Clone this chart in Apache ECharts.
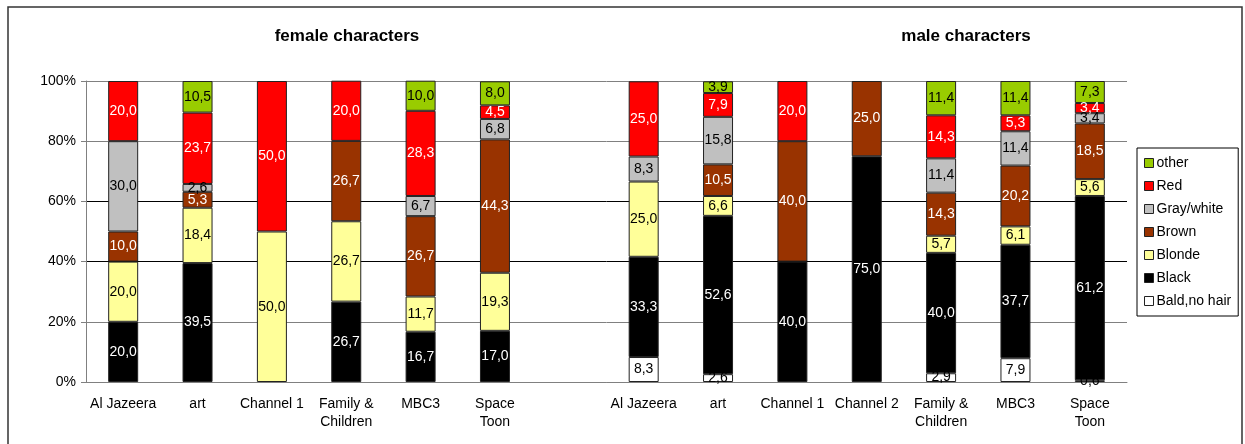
<!DOCTYPE html>
<html>
<head>
<meta charset="utf-8">
<script src="https://cdn.jsdelivr.net/npm/echarts@6/dist/echarts.min.js"></script>
<style>
  html, body { margin: 0; padding: 0; background: #fff; }
  #chart { width: 1245px; height: 444px; }
</style>
</head>
<body>
<div id="chart"></div>
<script>
var femaleChannels = ['Al Jazeera', 'art', 'Channel 1', 'Family &\nChildren', 'MBC3', 'Space\nToon'];
var maleChannels = ['Al Jazeera', 'art', 'Channel 1', 'Channel 2', 'Family &\nChildren', 'MBC3', 'Space\nToon'];

// percentages, female then male, in channel order above
var baldF   = [null, null, null, null, null, null];
var baldM   = [8.3, 2.6, null, null, 2.9, 7.9, 0.6];
var blackF  = [20.0, 39.5, null, 26.7, 16.7, 17.0];
var blackM  = [33.3, 52.6, 40.0, 75.0, 40.0, 37.7, 61.2];
var blondeF = [20.0, 18.4, 50.0, 26.7, 11.7, 19.3];
var blondeM = [25.0, 6.6, null, null, 5.7, 6.1, 5.6];
var brownF  = [10.0, 5.3, null, 26.7, 26.7, 44.3];
var brownM  = [null, 10.5, 40.0, 25.0, 14.3, 20.2, 18.5];
var grayF   = [30.0, 2.6, null, null, 6.7, 6.8];
var grayM   = [8.3, 15.8, null, null, 11.4, 11.4, 3.4];
var redF    = [20.0, 23.7, 50.0, 20.0, 28.3, 4.5];
var redM    = [25.0, 7.9, 20.0, null, 14.3, 5.3, 3.4];
var otherF  = [null, 10.5, null, null, 10.0, 8.0];
var otherM  = [null, 3.9, null, null, 11.4, 11.4, 7.3];

var legendOrder = ['other', 'Red', 'Gray/white', 'Brown', 'Blonde', 'Black', 'Bald,no hair'];

// one empty slot between the two groups
var categories = femaleChannels.concat(['']).concat(maleChannels);
function join(f, m) { return f.concat([null]).concat(m); }

var stackDefs = [
    { name: 'Bald,no hair', f: baldF, m: baldM, color: '#FFFFFF', text: '#000' },
    { name: 'Black', f: blackF, m: blackM, color: '#000000', text: '#fff' },
    { name: 'Blonde', f: blondeF, m: blondeM, color: '#FFFF99', text: '#000' },
    { name: 'Brown', f: brownF, m: brownM, color: '#993300', text: '#fff' },
    { name: 'Gray/white', f: grayF, m: grayM, color: '#C0C0C0', text: '#000' },
    { name: 'Red', f: redF, m: redM, color: '#FF0000', text: '#fff' },
    { name: 'other', f: otherF, m: otherM, color: '#99CC00', text: '#000' }
];

var FONT = '"Liberation Sans", Arial, sans-serif';

var series = stackDefs.map(function (d) {
    return {
        name: d.name,
        type: 'bar',
        stack: 'hair',
        barWidth: 30,
        data: join(d.f, d.m),
        itemStyle: { color: d.color, borderColor: '#222', borderWidth: 1 },
        label: {
            show: true,
            position: 'inside',
            color: d.text,
            fontFamily: FONT,
            fontSize: 14,
            formatter: function (p) {
                if (p.value == null) return '';
                return p.value.toFixed(1).replace('.', ',');
            }
        },
        emphasis: { disabled: true }
    };
});

var chart = echarts.init(document.getElementById('chart'));
chart.setOption({
    animation: false,
    backgroundColor: '#fff',
    textStyle: { fontFamily: FONT },
    graphic: [{
        type: 'rect',
        shape: { x: 8, y: 7, width: 1234, height: 460 },
        style: { fill: null, stroke: '#333', lineWidth: 1.5 },
        z: -1
    }],
    title: [
        { text: 'female characters', left: 342, top: 23, textAlign: 'center',
          textStyle: { fontSize: 17, fontWeight: 'bold', color: '#000', fontFamily: FONT } },
        { text: 'male characters', left: 961, top: 23, textAlign: 'center',
          textStyle: { fontSize: 17, fontWeight: 'bold', color: '#000', fontFamily: FONT } }
    ],
    legend: {
        orient: 'vertical',
        left: 1137,
        top: 148,
        data: legendOrder,
        padding: [8, 7, 8, 7],
        itemGap: 9,
        itemWidth: 9,
        itemHeight: 9,
        icon: 'rect',
        borderColor: '#000',
        borderWidth: 1,
        borderRadius: 0,
        itemStyle: { borderColor: '#222', borderWidth: 1 },
        textStyle: { fontSize: 14, color: '#000', fontFamily: FONT, padding: [0, 0, 0, -2] }
    },
    grid: { left: 86, right: 118, top: 81, bottom: 62, containLabel: false },
    xAxis: {
        type: 'category',
        data: categories,
        axisLine: { lineStyle: { color: '#808080' } },
        axisTick: { show: false },
        axisLabel: { color: '#000', fontSize: 14, margin: 13, interval: 0, lineHeight: 18, fontFamily: FONT }
    },
    yAxis: {
        type: 'value',
        min: 0,
        max: 100,
        interval: 20,
        axisLine: { show: true, lineStyle: { color: '#808080' } },
        axisTick: { show: true, length: 5, inside: false, lineStyle: { color: '#808080' } },
        axisLabel: { color: '#000', fontSize: 14, margin: 10, formatter: '{value}%', fontFamily: FONT },
        splitLine: { lineStyle: { color: ['#808080', '#808080', '#000', '#000', '#808080', '#808080'], width: 1 } }
    },
    series: series
});
</script>
</body>
</html>
